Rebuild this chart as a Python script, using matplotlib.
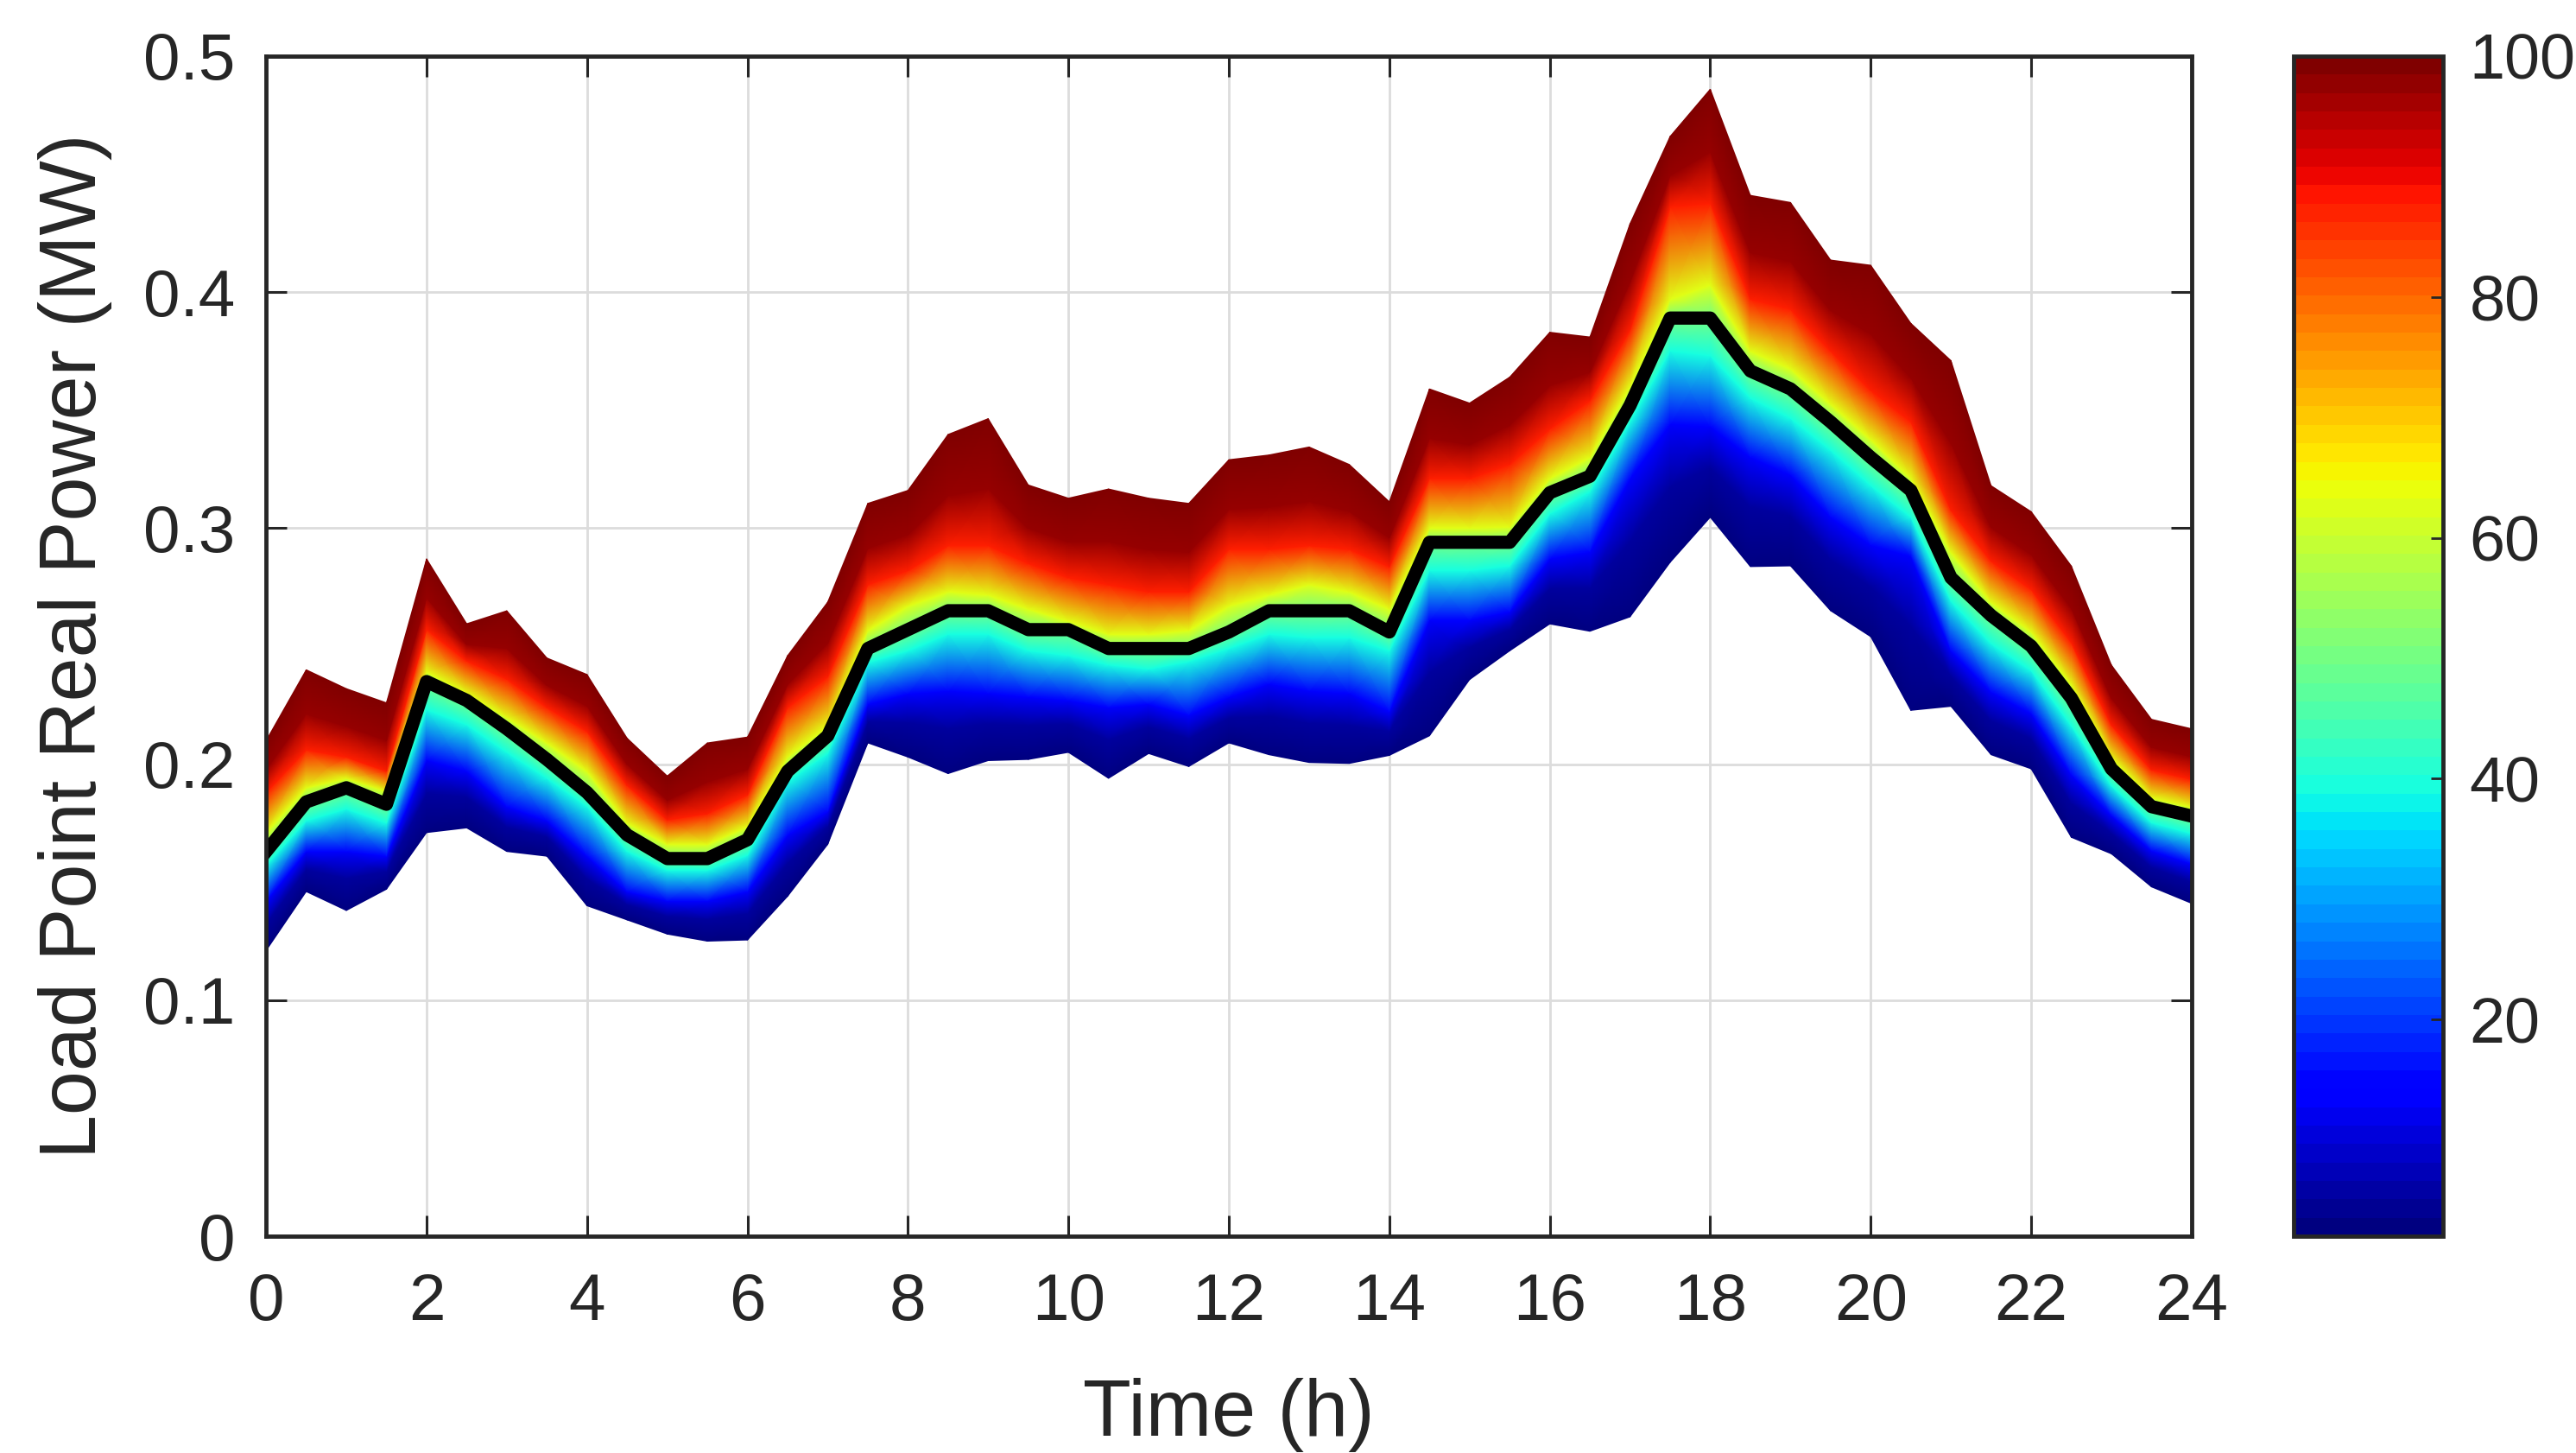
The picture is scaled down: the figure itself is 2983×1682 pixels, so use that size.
import numpy as np
import matplotlib
matplotlib.use("Agg")
import matplotlib.pyplot as plt
from matplotlib.colors import Normalize
from matplotlib.cm import ScalarMappable

plt.rcParams['font.family'] = ['Liberation Sans', 'DejaVu Sans']
INK = "#262626"

# half-hourly time steps over one day
hours = np.arange(0, 24.5, 0.5)

# load percentiles (MW) at each half hour
p02 = [.121, .146, .138, .147, .171, .173, .163, .161, .140, .134, .128, .125, .1255,
       .144, .166, .209, .203, .196, .2015, .202, .205, .194, .2045, .199, .209, .204,
       .2007, .2003, .2037, .212, .2358, .248, .2594, .2563, .2624, .2855, .3046, .2837,
       .284, .265, .254, .2228, .2245, .204, .198, .169, .162, .148, .141]
p05 = [.1326, .1554, .1518, .1547, .1879, .1862, .1735, .1693, .1516, .1406, .1357, .1344, .1368,
       .1583, .1737, .218, .2177, .2153, .2172, .2165, .2171, .2105, .216, .211, .2197, .2205,
       .2174, .2166, .214, .239, .2497, .2571, .2746, .2748, .2946, .3177, .3257, .3092,
       .3052, .2868, .2753, .2587, .2374, .2186, .2109, .1836, .1709, .1564, .1502]
p14 = [.142, .163, .163, .161, .2017, .197, .182, .176, .161, .146, .142, .142, .146,
       .170, .180, .2254, .2298, .231, .230, .2284, .227, .224, .2254, .2208, .2284, .234,
       .231, .230, .2224, .261, .261, .2646, .287, .290, .321, .344, .343, .330,
       .3225, .3046, .2928, .288, .248, .2306, .2214, .1955, .1782, .1633, .1577]
p39 = [.157, .176, .181, .175, .223, .2167, .205, .194, .182, .163, .155, .155, .1614,
       .1925, .2045, .243, .248, .255, .255, .248, .246, .242, .2403, .2434, .249, .255,
       .2536, .2536, .248, .282, .282, .284, .306, .3154, .345, .375, .373, .355,
       .3465, .333, .318, .3046, .269, .251, .2396, .2162, .1908, .1752, .1706]
p50 = [.163, .184, .190, .183, .235, .227, .215, .202, .188, .170, .160, .160, .168,
       .197, .212, .249, .257, .265, .265, .257, .257, .249, .249, .249, .256, .265,
       .265, .265, .256, .294, .294, .294, .315, .322, .352, .389, .389, .3666,
       .359, .345, .330, .316, .279, .263, .250, .228, .198, .182, .178]
p63 = [.171, .190, .194, .1885, .239, .230, .2197, .209, .197, .175, .166, .166, .1735,
       .203, .216, .2567, .267, .273, .2717, .2657, .2606, .255, .255, .2567, .267, .2717,
       .276, .273, .2657, .300, .300, .3005, .321, .330, .360, .397, .403, .375,
       .3675, .3525, .3375, .321, .2897, .2685, .256, .2336, .2024, .1857, .1817]
p88 = [.188, .206, .203, .197, .257, .2437, .236, .224, .2138, .191, .1764, .179, .187,
       .224, .237, .276, .282, .2926, .2926, .285, .279, .276, .273, .273, .291, .291,
       .2926, .291, .2836, .321, .321, .327, .342, .354, .384, .436, .4376, .397,
       .3927, .375, .3584, .345, .3076, .286, .274, .2515, .2165, .1975, .1935]
p98 = [.1979, .2213, .2161, .2101, .2705, .2508, .2491, .2335, .2247, .200, .1848, .1925, .198,
       .2339, .2513, .2915, .2973, .3138, .3168, .300, .2942, .2943, .2909, .2899, .3081, .309,
       .3114, .3072, .296, .3381, .3354, .3437, .3605, .3662, .4043, .4495, .4594, .4168,
       .4131, .3924, .3823, .3638, .3361, .3004, .2889, .2661, .228, .2072, .2032]
p100 = [.210, .240, .232, .226, .287, .2595, .265, .245, .238, .211, .195, .209, .2115,
        .246, .2687, .3105, .316, .3397, .3464, .3183, .3127, .3166, .3127, .3105, .329, .331,
        .3344, .327, .3112, .359, .353, .364, .383, .381, .429, .466, .486, .441,
        .438, .4136, .4114, .3868, .371, .318, .307, .284, .242, .219, .215]
pct_levels = [2, 5, 14, 39, 50, 63, 88, 98, 100]

fig = plt.figure(figsize=(29.83, 16.82), dpi=100)
ax = fig.add_axes([0.1033, 0.1492, 0.7475, 0.8122])
cax = fig.add_axes([0.8904, 0.1492, 0.058, 0.8122])

# shaded percentile fan, one mesh row per percentile curve
norm = Normalize(2, 100)
curves = np.vstack([p02, p05, p14, p39, p50, p63, p88, p98, p100])
X = np.tile(hours, (len(pct_levels), 1))
C = np.repeat(np.array(pct_levels, float)[:, None], len(hours), axis=1)
ax.pcolormesh(X, curves, C, shading='gouraud', cmap='jet', norm=norm, zorder=2)
ax.plot(hours, p50, color='k', lw=11, zorder=3)

ax.set_xlim(0, 24)
ax.set_ylim(0, 0.5)
ax.set_xticks(range(0, 25, 2))
ax.set_yticks([0, 0.1, 0.2, 0.3, 0.4, 0.5])
ax.set_yticklabels(['0', '0.1', '0.2', '0.3', '0.4', '0.5'])
ax.grid(True, color='#dcdcdc', lw=2)
ax.set_axisbelow(True)
for s in ax.spines.values():
    s.set_linewidth(3.5)
    s.set_color(INK)
    s.set_zorder(4)
ax.tick_params(direction='in', top=True, right=True, length=17, width=2.2,
               colors=INK, labelsize=55)
ax.tick_params(axis='x', pad=30)
ax.tick_params(axis='y', pad=26)
ax.set_xlabel('Time (h)', fontsize=66, color=INK)
ax.set_ylabel('Load Point Real Power (MW)', fontsize=66, color=INK)
ax.xaxis.set_label_coords(0.5, -0.12)
ax.yaxis.set_label_coords(-0.08, 0.5)

cb = fig.colorbar(ScalarMappable(norm, plt.get_cmap('jet', 64)), cax=cax)
cb.set_ticks([20, 40, 60, 80, 100])
cb.outline.set_linewidth(3.5)
cb.outline.set_edgecolor(INK)
cax.tick_params(direction='in', length=10, width=2, colors=INK, labelsize=53, pad=22)

fig.savefig("out.png", dpi=100)
plt.close(fig)
